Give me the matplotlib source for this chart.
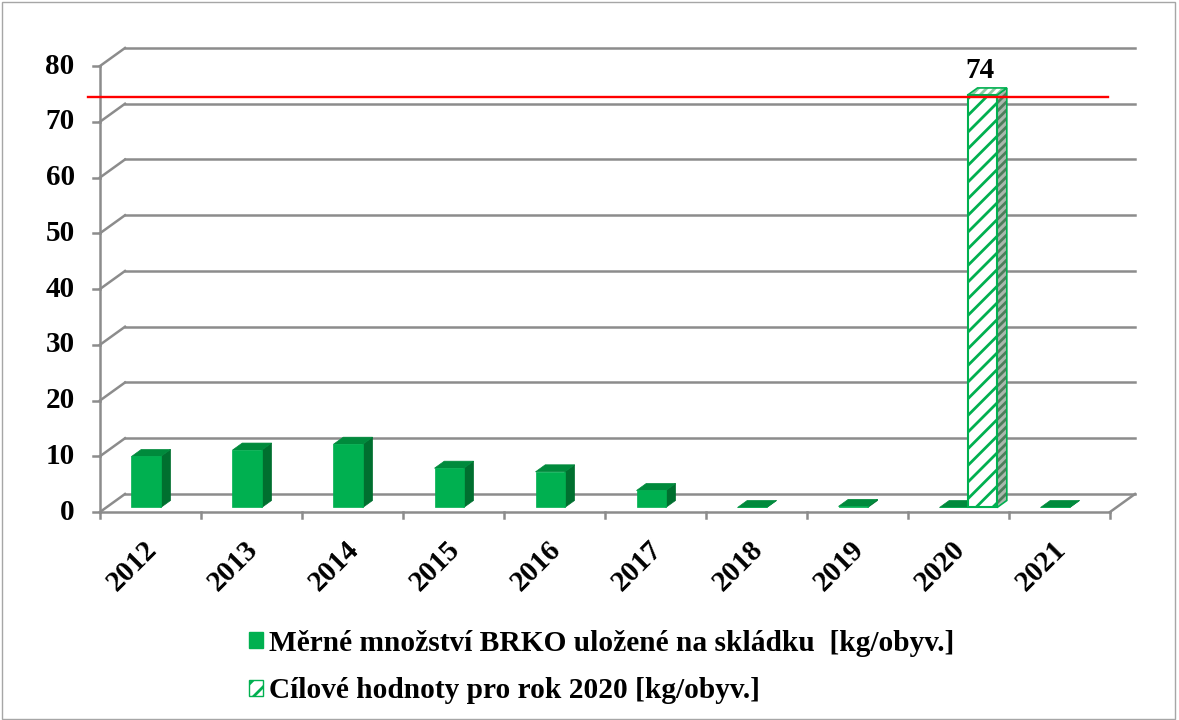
import numpy as np
import matplotlib.pyplot as plt
from matplotlib.patches import Polygon, Patch, Rectangle

plt.rcParams['font.family'] = ['Liberation Serif', 'DejaVu Serif']
plt.rcParams['font.weight'] = 'bold'
plt.rcParams['hatch.linewidth'] = 2.0

years = ['2012', '2013', '2014', '2015', '2016', '2017', '2018', '2019', '2020', '2021']
brko = [9.15, 10.3, 11.35, 7.05, 6.4, 3.05, 0.0, 0.2, 0.0, 0.0]
target = [None, None, None, None, None, None, None, None, 74, None]
yticks = [0, 10, 20, 30, 40, 50, 60, 70, 80]
target_line = 74

lab_brko = 'Měrné množství BRKO uložené na skládku  [kg/obyv.]'
lab_target = 'Cílové hodnoty pro rok 2020 [kg/obyv.]'

green = '#00B050'
green_top = '#008A3C'
green_side = '#006F2F'
grid_c = '#8C8C8C'

# oblique "3D" depth in data units
DX = 0.2475
DY = 3.23
F0, F1 = 0.25, 0.64
W = 0.29

fig = plt.figure(figsize=(11.79, 7.2), dpi=100)
ax = fig.add_axes([100/1179, 208/720, 1035/1179, 464/720])
ax.set_xlim(0, 10 + DX)
ax.set_ylim(0, 80 + DY)
ax.axis('off')

n = len(years)

# back wall gridlines + left wall
for v in yticks:
    ax.plot([DX, n + DX], [v + DY, v + DY], color=grid_c, lw=1.8, zorder=1, clip_on=False)
    ax.plot([0, DX], [v, v + DY], color=grid_c, lw=1.8, zorder=1, clip_on=False)
    ax.plot([-0.07, 0], [v, v], color=grid_c, lw=1.8, zorder=1, clip_on=False)
    ax.text(-0.25, v, str(v), ha='right', va='center', fontsize=21, fontweight='bold')

# front axes
ax.plot([0, 0], [0, 80], color=grid_c, lw=1.8, zorder=1, clip_on=False)
ax.plot([0, n], [0, 0], color=grid_c, lw=1.8, zorder=1, clip_on=False)
ax.plot([n, n + DX], [0, DY], color=grid_c, lw=1.8, zorder=1, clip_on=False)
for i in range(n + 1):
    ax.plot([i, i], [0, -1.08], color=grid_c, lw=1.8, zorder=1, clip_on=False)

for i, yr in enumerate(years):
    ax.annotate(yr, xy=(i + 0.5, 0), xytext=(2, -33), textcoords='offset pixels',
                rotation=45, ha='right', va='center', rotation_mode='anchor',
                fontsize=21, fontweight='bold', annotation_clip=False)


def bar3d(x0, v, face, top, side, hatch=None, hcol=None, hside=None, htop=None):
    xf = x0 + F0 * DX
    yf = F0 * DY
    xb = x0 + F1 * DX
    yb = F1 * DY
    top_pts = [(xf, yf + v), (xf + W, yf + v), (xb + W, yb + v), (xb, yb + v)]
    side_pts = [(xf + W, yf), (xf + W, yf + v), (xb + W, yb + v), (xb + W, yb)]
    if hatch is None:
        ax.add_patch(Polygon(side_pts, closed=True, facecolor=side, edgecolor=side, lw=0.5, zorder=3))
        ax.add_patch(Polygon(top_pts, closed=True, facecolor=top, edgecolor=top, lw=0.5, zorder=3))
        ax.bar(xf, v, width=W, bottom=yf, align='edge', color=face, edgecolor=face, lw=0.5, zorder=3)
    else:
        ax.add_patch(Polygon(side_pts, closed=True, facecolor=side, edgecolor=hside, lw=0,
                             hatch='////', zorder=3))
        ax.add_patch(Polygon(side_pts, closed=True, fill=False, edgecolor=hcol, lw=1.2, zorder=3))
        ax.add_patch(Polygon(top_pts, closed=True, facecolor='white', edgecolor=htop, lw=0,
                             hatch='////', zorder=3))
        ax.add_patch(Polygon(top_pts, closed=True, fill=False, edgecolor=hcol, lw=1.2, zorder=3))
        ax.bar(xf, v, width=W, bottom=yf, align='edge', color=face, edgecolor=hcol, lw=0,
               hatch=hatch, zorder=3)
        ax.bar(xf, v, width=W, bottom=yf, align='edge', fill=False, edgecolor=hcol, lw=1.5, zorder=3)


for i in range(n):
    bar3d(i + 0.25, brko[i], green, green_top, green_side)
    if target[i] is not None:
        bar3d(i + 0.53, target[i], 'white', None, '#A9B8AD', hatch='//', hcol=green,
              hside='#4E7D5C', htop='#8CCBA3')
        ax.annotate(str(target[i]), xy=(i + 0.53 + F0 * DX + W / 2, target[i] + F1 * DY),
                    xytext=(-2, 10), textcoords='offset pixels', ha='center', va='baseline',
                    fontsize=21, fontweight='bold', annotation_clip=False)

# red target line
ax.plot([-0.12, 9.98], [target_line + 0.12 * DY, target_line + 0.12 * DY], color='#FF0000',
        lw=1.7, zorder=5, clip_on=False)

handles = [Patch(facecolor=green, edgecolor=green, label=lab_brko),
           Patch(facecolor='white', edgecolor=green, hatch='//', label=lab_target)]
fig.legend(handles=handles, loc='center left', bbox_to_anchor=(249/1179, 53/720),
           frameon=False, prop={'weight': 'bold', 'size': 21.2},
           handlelength=0.48, handleheight=0.48, handletextpad=0.2,
           labelspacing=0.7, borderpad=0, borderaxespad=0)

fig.add_artist(Rectangle((0.002, 0.002), 0.995, 0.995, transform=fig.transFigure,
                         fill=False, edgecolor='#A6A6A6', lw=1))

fig.savefig('out.png', dpi=100)
